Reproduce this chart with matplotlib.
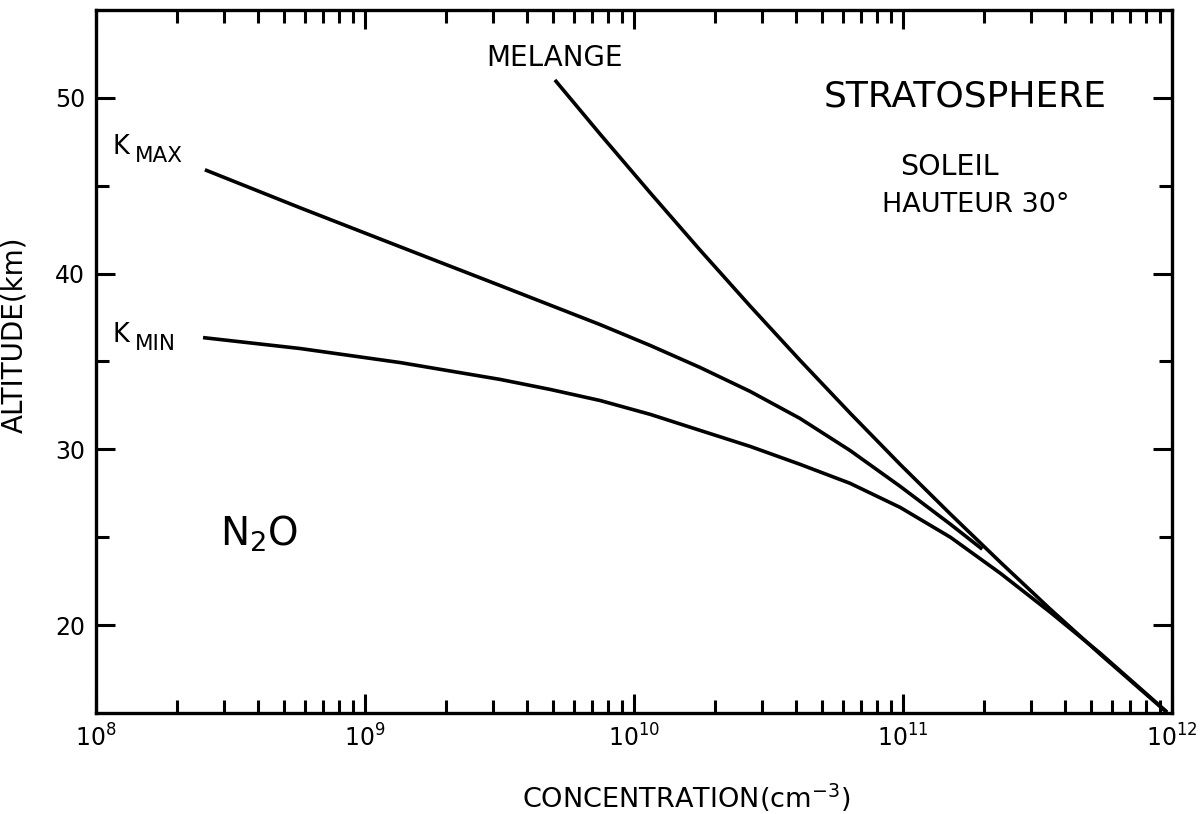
import matplotlib
matplotlib.use('Agg')
import matplotlib.pyplot as plt
from matplotlib.ticker import LogLocator, FixedLocator, NullFormatter, LogFormatterMathtext

# ---- data (concentration in cm^-3, altitude in km) ----
melange_conc = [5.08e9, 7.48e9, 1.15e10, 1.76e10, 2.70e10, 4.14e10, 6.35e10,
                9.75e10, 1.50e11, 2.30e11, 3.52e11, 5.40e11, 9.57e11]
melange_alt = [51.02, 47.94, 44.59, 41.34, 38.16, 35.07, 32.07,
               29.15, 26.32, 23.58, 20.92, 18.35, 15.03]

kmax_conc = [2.54e8, 5.73e8, 1.35e9, 3.18e9, 7.48e9, 1.15e10, 1.76e10,
             2.70e10, 4.14e10, 6.35e10, 9.75e10, 1.50e11, 1.97e11]
kmax_alt = [45.91, 43.75, 41.53, 39.32, 37.10, 35.91, 34.66,
            33.30, 31.76, 29.94, 27.90, 25.74, 24.32]

kmin_conc = [2.50e8, 5.73e8, 1.35e9, 3.18e9, 4.88e9, 7.48e9, 1.15e10, 1.76e10,
             2.70e10, 4.14e10, 6.35e10, 9.75e10, 1.50e11, 2.30e11, 3.52e11,
             5.40e11, 9.57e11]
kmin_alt = [36.36, 35.74, 34.94, 33.98, 33.41, 32.78, 31.99, 31.08,
            30.17, 29.15, 28.07, 26.70, 25.00, 22.95, 20.74,
            18.41, 15.06]

y_major = [20, 30, 40, 50]
y_minor = [25, 35, 45]

plt.rcParams['font.family'] = ['DejaVu Sans']
plt.rcParams['mathtext.fontset'] = 'dejavusans'

fig = plt.figure(figsize=(12, 8.14), dpi=100)
ax = fig.add_axes([0.08, 0.1241, 0.8967, 0.8636])

lw = 2.6
for xs, ys in ((melange_conc, melange_alt), (kmax_conc, kmax_alt), (kmin_conc, kmin_alt)):
    ax.plot(xs, ys, color='black', lw=lw, solid_capstyle='butt', solid_joinstyle='round')

ax.set_xscale('log')
ax.set_xlim(1e8, 1e12)
ax.set_ylim(15, 55)

ax.xaxis.set_major_locator(LogLocator(base=10, numticks=10))
ax.xaxis.set_minor_locator(LogLocator(base=10, subs=range(2, 10), numticks=100))
ax.xaxis.set_minor_formatter(NullFormatter())
ax.xaxis.set_major_formatter(LogFormatterMathtext())
ax.yaxis.set_major_locator(FixedLocator(y_major))
ax.yaxis.set_minor_locator(FixedLocator(y_minor))

ax.tick_params(which='both', direction='in', top=True, right=True,
               width=2.2, color='black')
ax.tick_params(which='major', length=14, labelsize=17, pad=8)
ax.tick_params(which='minor', length=9.5)

for sp in ax.spines.values():
    sp.set_linewidth(2.4)

ax.set_xlabel('CONCENTRATION(cm$^{-3}$)', fontsize=19.5)
ax.xaxis.set_label_coords(0.548, -0.097)
ax.set_ylabel('ALTITUDE(km)', fontsize=20)
ax.yaxis.set_label_coords(-0.063, 0.538)

ax.text(5.05e9, 52.27, 'MELANGE', fontsize=20, ha='center', va='center')
ax.text(5.05e10, 50.06, 'STRATOSPHERE', fontsize=26, ha='left', va='center')
ax.text(9.75e10, 46.08, 'SOLEIL', fontsize=20.5, ha='left', va='center')
ax.text(8.36e10, 43.92, 'HAUTEUR 30°', fontsize=19.5, ha='left', va='center')

# K with subscripts
ax.text(1.15e8, 47.2, 'K', fontsize=18.5, ha='left', va='center')
ax.text(1.40e8, 46.70, 'MAX', fontsize=15.5, ha='left', va='center')
ax.text(1.15e8, 36.48, 'K', fontsize=18.5, ha='left', va='center')
ax.text(1.40e8, 36.02, 'MIN', fontsize=15.5, ha='left', va='center')

ax.text(2.89e8, 25.2, 'N$_{2}$O', fontsize=28, ha='left', va='center')

fig.savefig('out.png', dpi=100)
